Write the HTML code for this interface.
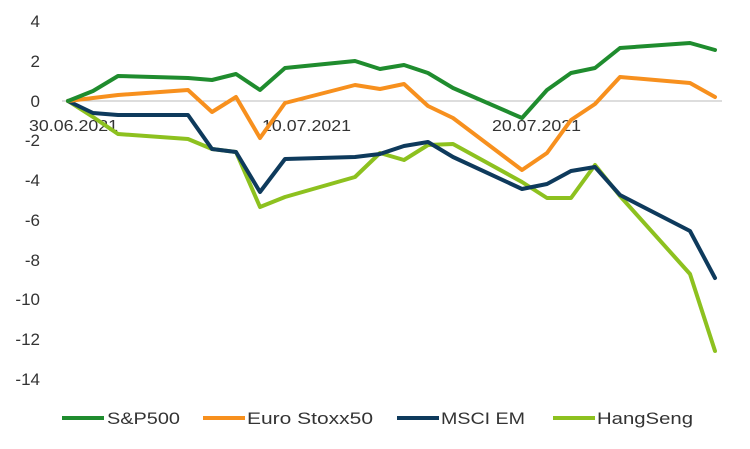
<!DOCTYPE html>
<html><head><meta charset="utf-8"><style>
html,body{margin:0;padding:0;background:#fff;}
svg{display:block;font-family:"Liberation Sans",sans-serif;}
</style></head><body>
<svg width="750" height="449" viewBox="0 0 750 449">
<g font-size="17" fill="#333" text-anchor="end">
<text x="40" y="27">4</text>
<text x="40" y="67">2</text>
<text x="40" y="107">0</text>
<text x="40" y="146">-2</text>
<text x="40" y="186">-4</text>
<text x="40" y="226">-6</text>
<text x="40" y="266">-8</text>
<text x="40" y="305">-10</text>
<text x="40" y="345">-12</text>
<text x="40" y="385">-14</text>
</g>
<line x1="62" y1="101" x2="722" y2="101" stroke="#bbb" stroke-width="1"/>
<g font-size="16" fill="#333">
<text x="29" y="131" textLength="89" lengthAdjust="spacingAndGlyphs">30.06.2021</text>
<text x="262" y="131" textLength="89" lengthAdjust="spacingAndGlyphs">10.07.2021</text>
<text x="492" y="131" textLength="89" lengthAdjust="spacingAndGlyphs">20.07.2021</text>
</g>
<g fill="none" stroke-width="4" stroke-linejoin="round" stroke-linecap="round">
<polyline stroke="#8dc11f" points="68,101 93,117 118,134 188,139 212,149 236,152 260,207 285,197 355,177 380,153 404,160 428,145 453,144 522,182 547,198 571,198 595,165 620,196 690,274 715,351"/>
<polyline stroke="#0e3a5c" points="68,101 93,113 118,115 188,115 212,149 236,152 260,192 285,159 355,157 380,154 404,146 428,142 453,157 522,189 547,184 571,171 595,167 620,195 690,231 715,278"/>
<polyline stroke="#f7901e" points="68,101 118,95 188,90 212,112 236,97 260,138 285,103 355,85 380,89 404,84 428,106 453,118 522,170 547,153 571,120 595,104 620,77 690,83 715,97"/>
<polyline stroke="#1f8c2e" points="68,101 93,91 118,76 188,78 212,80 236,74 260,90 285,68 355,61 380,69 404,65 428,73 453,88 522,118 547,90 571,73 595,68 620,48 690,43 715,50"/>
</g>
<g font-size="17" fill="#333">
<line x1="62" y1="418" x2="104" y2="418" stroke="#1f8c2e" stroke-width="4"/>
<text x="107" y="424" textLength="73" lengthAdjust="spacingAndGlyphs">S&amp;P500</text>
<line x1="203" y1="418" x2="245" y2="418" stroke="#f7901e" stroke-width="4"/>
<text x="247" y="424" textLength="126" lengthAdjust="spacingAndGlyphs">Euro Stoxx50</text>
<line x1="397" y1="418" x2="439" y2="418" stroke="#0e3a5c" stroke-width="4"/>
<text x="441" y="424" textLength="84" lengthAdjust="spacingAndGlyphs">MSCI EM</text>
<line x1="553" y1="418" x2="595" y2="418" stroke="#8dc11f" stroke-width="4"/>
<text x="597" y="424" textLength="96" lengthAdjust="spacingAndGlyphs">HangSeng</text>
</g>
</svg>
</body></html>
